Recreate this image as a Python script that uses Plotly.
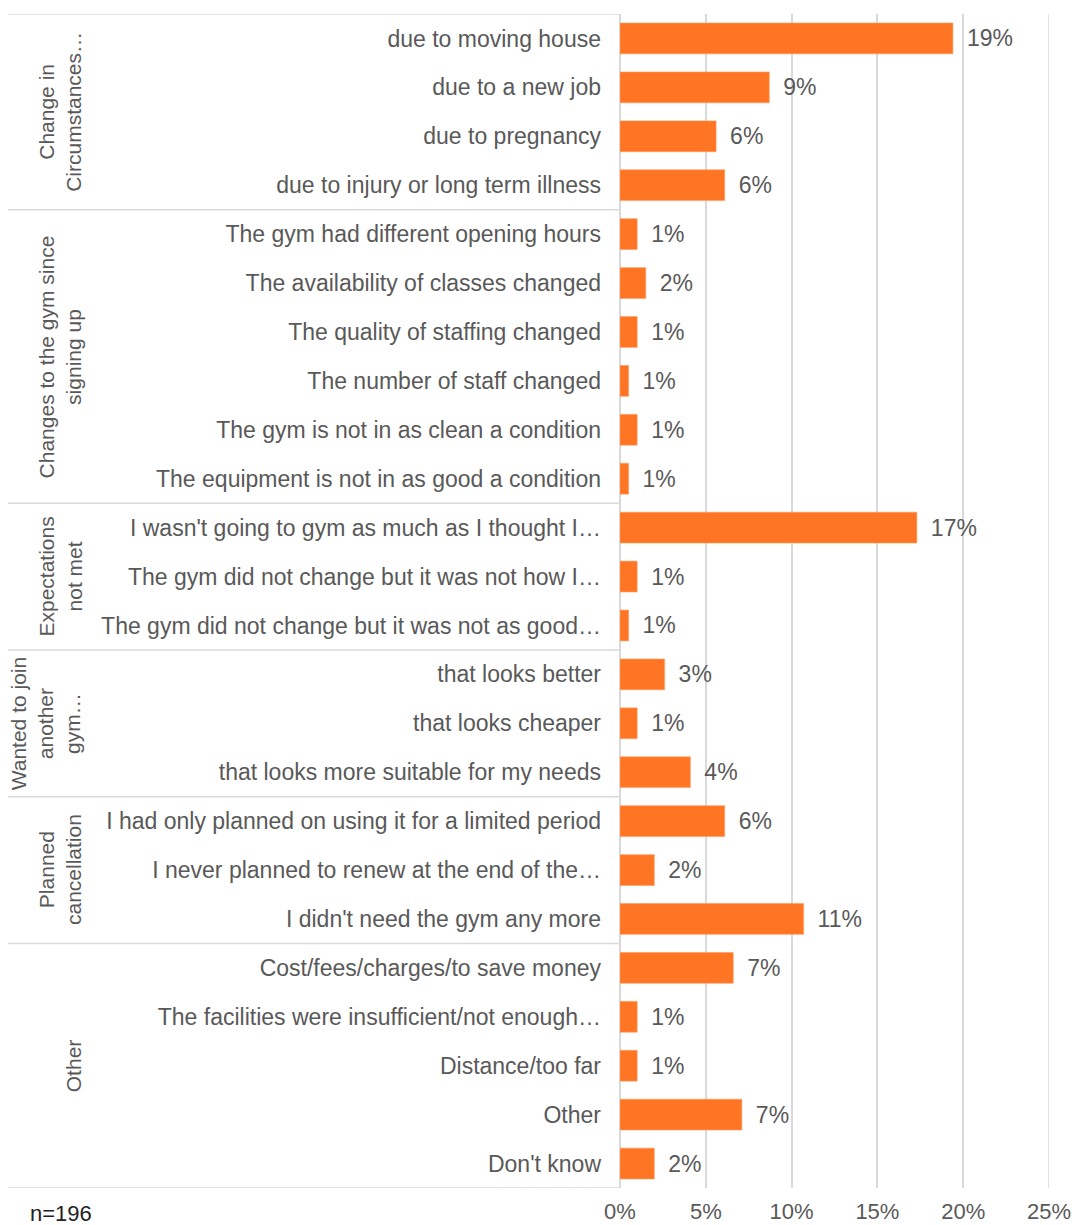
import plotly.graph_objects as go

# Reasons for cancelling a gym membership (share of respondents, %)
reasons = [
    "due to moving house",
    "due to a new job",
    "due to pregnancy",
    "due to injury or long term illness",
    "The gym had different opening hours",
    "The availability of classes changed",
    "The quality of staffing changed",
    "The number of staff changed",
    "The gym is not in as clean a condition",
    "The equipment is not in as good a condition",
    "I wasn't going to gym as much as I thought I…",
    "The gym did not change but it was not how I…",
    "The gym did not change but it was not as good…",
    "that looks better",
    "that looks cheaper",
    "that looks more suitable for my needs",
    "I had only planned on using it for a limited period",
    "I never planned to renew at the end of the…",
    "I didn't need the gym any more",
    "Cost/fees/charges/to save money",
    "The facilities were insufficient/not enough…",
    "Distance/too far",
    "Other",
    "Don't know",
]
shares = [
    19.4, 8.7, 5.6, 6.1,
    1.0, 1.5, 1.0, 0.5, 1.0, 0.5,
    17.3, 1.0, 0.5,
    2.6, 1.0, 4.1,
    6.1, 2.0, 10.7,
    6.6, 1.0, 1.0, 7.1, 2.0,
]

# Reason groups: label and number of reasons in each
group_labels = [
    "Change in<br>Circumstances…",
    "Changes to the gym since<br>signing up",
    "Expectations<br>not met",
    "Wanted to join<br>another<br>gym…",
    "Planned<br>cancellation",
    "Other",
]
group_sizes = [4, 6, 3, 3, 3, 5]

x_ticks = [0, 5, 10, 15, 20, 25]
sample_note = "n=196"

BAR = "#FF7524"
TEXT = "#595959"
GRID = "#D9D9D9"
FONT = "Liberation Sans, Arial, sans-serif"
FS = 23

fig = go.Figure(
    go.Bar(
        x=shares,
        y=reasons,
        orientation="h",
        marker=dict(color=BAR, line=dict(color="#FF9A5C", width=0.6)),
        texttemplate="\u00a0\u2009%{x:.0f}%",
        textposition="outside",
        cliponaxis=False,
        textfont=dict(size=FS, color=TEXT, family=FONT),
        hoverinfo="skip",
    )
)

# Group separators and vertical group labels in the left margin
W, H = 1072, 1225
ml, mr, mt, mb = 620, 23, 14, 37
plot_w = W - ml - mr
sep_x0 = (8 - ml) / plot_w
label_x = (87 - ml) / plot_w

shapes = []
annotations = []
start = 0
bounds = [-0.5]
for lab, size in zip(group_labels, group_sizes):
    end = start + size
    bounds.append(end - 0.5)
    annotations.append(dict(
        text=lab, x=label_x, xref="paper", xanchor="right",
        y=(start + end - 1) / 2, yref="y", yanchor="middle",
        textangle=-90, showarrow=False, align="center",
        font=dict(size=21, color=TEXT, family=FONT),
    ))
    start = end
for b in bounds:
    shapes.append(dict(
        type="line", xref="paper", yref="y", x0=sep_x0, x1=0, y0=b, y1=b,
        line=dict(color=GRID, width=1.5), layer="below",
    ))

# Gridline at the right end of the value axis
shapes.append(dict(
    type="line", xref="x", yref="paper", x0=x_ticks[-1], x1=x_ticks[-1],
    y0=0, y1=1, line=dict(color=GRID, width=1.5), layer="below",
))

annotations.append(dict(
    text=sample_note, x=(28 - ml) / plot_w, xref="paper", xanchor="left",
    y=0, yref="paper", yanchor="top", yshift=-11, showarrow=False,
    font=dict(size=22, color="#222222", family=FONT),
))

fig.update_layout(
    width=W, height=H,
    margin=dict(l=ml, r=mr, t=mt, b=mb, autoexpand=False),
    paper_bgcolor="white", plot_bgcolor="white",
    bargap=0.37,
    showlegend=False,
    shapes=shapes,
    annotations=annotations,
    font=dict(family=FONT, color=TEXT, size=FS),
    xaxis=dict(
        range=[0, 25], tickvals=x_ticks,
        ticktext=[f"{v}%" for v in x_ticks],
        showgrid=True, gridcolor=GRID, gridwidth=1.5,
        zeroline=True, zerolinecolor=GRID, zerolinewidth=1.5,
        showline=False, ticks="", ticklabelstandoff=8,
        ticklabeloverflow="allow",
        tickfont=dict(size=22, color=TEXT, family=FONT),
        automargin=False, fixedrange=True,
    ),
    yaxis=dict(
        type="category", categoryorder="array", categoryarray=reasons,
        range=[len(reasons) - 0.5, -0.5],
        showgrid=False, zeroline=False, showline=False, ticks="",
        ticklabelstandoff=18,
        tickfont=dict(size=FS, color=TEXT, family=FONT),
        automargin=False, fixedrange=True,
    ),
)

fig.write_html("out.html")
